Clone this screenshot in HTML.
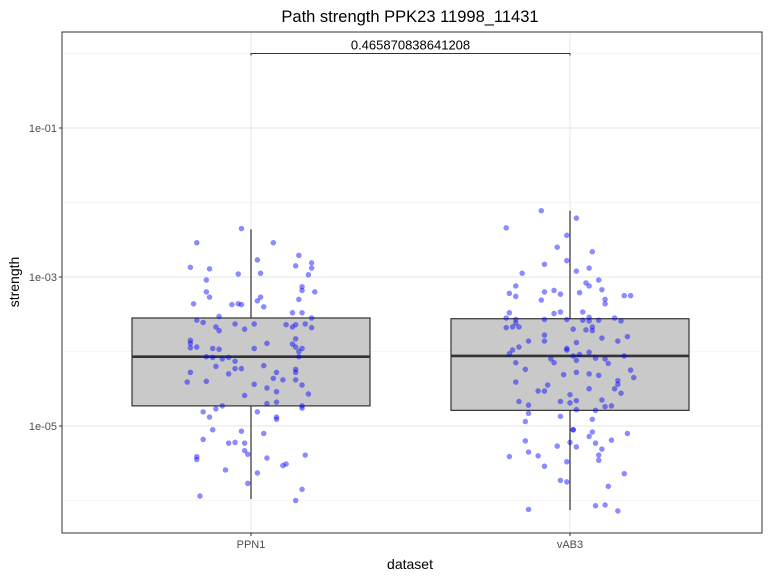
<!DOCTYPE html>
<html><head><meta charset="utf-8">
<style>
html,body{margin:0;padding:0;background:#fff;}
svg{display:block;font-family:"Liberation Sans",Arial,sans-serif;}
</style></head>
<body>
<svg id="chart" width="768" height="576" viewBox="0 0 768 576">
  <text x="410" y="22" text-anchor="middle" font-size="16.5" fill="#000">Path strength PPK23 11998_11431</text>
  <g id="grid"></g>
  <g id="boxes"></g>
  <g id="points"></g>
  <g id="annot"></g>
  <rect x="62" y="32" width="700" height="501" fill="none" stroke="#333" stroke-width="1"/>
  <g id="axes"></g>
  <text x="410" y="569" text-anchor="middle" font-size="14" fill="#000">dataset</text>
  <text transform="translate(19,282) rotate(-90)" text-anchor="middle" font-size="14" fill="#000">strength</text>
</svg>
<script>
const categories = ["PPN1", "vAB3"];
const yTickExps = [-1, -3, -5];
const yTickLabels = ["1e-01", "1e-03", "1e-05"];
const yMinorExps = [0, -2, -4, -6];
const annotationLabel = "0.465870838641208";
const annotationExp = 0.0;
// box stats (log10 values): lower whisker, q1, median, q3, upper whisker
const boxLow = [-5.98, -6.13];
const boxQ1 = [-4.73, -4.79];
const boxMed = [-4.07, -4.06];
const boxQ3 = [-3.55, -3.56];
const boxHigh = [-2.36, -2.11];
// points: jitter offset (category units) and log10 strength
const ppn1Jitter = [-0.03,-0.17,0.07,0.15,0.02,0.19,-0.19,0.14,0.19,-0.13,-0.04,0.03,0.18,-0.14,0.16,0.16,0.20,-0.14,-0.13,0.03,0.02,0.15,-0.18,-0.06,-0.04,-0.03,0.04,0.13,0.16,-0.10,0.19,-0.17,-0.15,-0.05,0.01,-0.11,0.11,0.13,0.14,0.17,0.19,-0.10,-0.02,-0.19,-0.19,0.14,0.05,-0.19,-0.17,0.01,-0.12,-0.10,0.13,0.14,0.16,0.15,0.15,-0.14,-0.12,-0.09,-0.07,-0.05,-0.11,0.04,-0.05,-0.03,-0.19,-0.07,0.08,0.14,0.14,0.07,0.10,0.14,-0.20,-0.14,0.01,0.16,0.05,0.08,0.18,-0.02,0.08,0.05,0.16,0.16,-0.09,-0.11,-0.15,0.02,-0.13,0.08,0.08,-0.12,-0.03,0.04,-0.15,-0.07,-0.05,-0.02,-0.02,-0.01,-0.17,-0.17,0.17,0.05,0.10,0.11,-0.08,0.02,-0.01,0.16,-0.16,0.14];
const ppn1Log = [-2.35,-2.54,-2.54,-2.71,-2.77,-2.81,-2.87,-2.85,-2.88,-2.89,-2.96,-2.95,-2.97,-3.04,-3.13,-3.18,-3.20,-3.20,-3.27,-3.27,-3.32,-3.30,-3.36,-3.37,-3.36,-3.37,-3.40,-3.48,-3.48,-3.53,-3.55,-3.58,-3.61,-3.63,-3.63,-3.67,-3.64,-3.67,-3.64,-3.63,-3.68,-3.72,-3.70,-3.85,-3.89,-3.83,-3.89,-3.95,-3.94,-3.96,-3.96,-3.97,-3.90,-3.94,-3.96,-4.00,-4.07,-4.07,-4.08,-4.10,-4.08,-4.13,-4.20,-4.19,-4.23,-4.23,-4.28,-4.30,-4.28,-4.24,-4.28,-4.36,-4.38,-4.38,-4.41,-4.40,-4.44,-4.45,-4.49,-4.54,-4.57,-4.59,-4.68,-4.70,-4.73,-4.76,-4.73,-4.77,-4.81,-4.81,-4.88,-4.88,-4.91,-5.05,-5.07,-5.10,-5.18,-5.23,-5.22,-5.23,-5.33,-5.38,-5.41,-5.45,-5.39,-5.43,-5.53,-5.51,-5.59,-5.63,-5.77,-5.85,-5.94,-6.00];
const vab3Jitter = [-0.09,0.02,-0.20,-0.01,-0.04,0.07,-0.01,-0.08,0.06,0.02,-0.15,0.09,0.05,0.06,-0.17,0.10,-0.05,-0.08,0.03,-0.19,-0.17,-0.03,0.17,0.19,0.11,-0.09,0.11,-0.19,-0.05,-0.03,0.04,-0.20,-0.17,-0.08,-0.01,0.04,0.06,0.06,0.09,0.14,0.16,-0.17,-0.20,-0.18,-0.16,0.01,0.05,0.07,0.07,-0.08,-0.08,-0.13,0.10,0.15,0.18,0.02,-0.16,-0.18,-0.01,-0.01,-0.19,0.01,0.03,0.06,-0.06,0.02,0.08,0.11,0.17,-0.17,-0.05,0.12,-0.14,0.19,-0.02,0.02,0.06,0.09,0.20,0.15,-0.17,-0.07,0.15,0.06,0.14,-0.10,-0.08,0.16,0.00,-0.16,-0.03,0.02,0.00,0.10,-0.13,0.11,0.13,0.02,0.08,-0.13,-0.03,-0.14,0.07,0.01,0.01,0.07,0.06,0.18,-0.14,0.13,0.00,0.08,-0.04,0.02,0.10,-0.13,-0.10,-0.19,0.09,0.09,-0.08,-0.01,0.17,-0.03,-0.01,0.12,0.08,0.11,-0.13,0.15];
const vab3Log = [-2.11,-2.21,-2.34,-2.44,-2.60,-2.66,-2.78,-2.83,-2.88,-2.92,-2.95,-3.04,-3.08,-3.12,-3.12,-3.17,-3.18,-3.20,-3.21,-3.22,-3.26,-3.23,-3.25,-3.25,-3.30,-3.31,-3.36,-3.48,-3.49,-3.47,-3.47,-3.55,-3.57,-3.57,-3.57,-3.58,-3.54,-3.59,-3.58,-3.55,-3.59,-3.62,-3.68,-3.67,-3.67,-3.70,-3.71,-3.67,-3.72,-3.78,-3.86,-3.86,-3.82,-3.86,-3.80,-3.88,-3.94,-3.98,-3.96,-3.98,-4.03,-4.06,-4.04,-4.01,-4.10,-4.12,-4.09,-4.10,-4.06,-4.15,-4.15,-4.16,-4.24,-4.25,-4.31,-4.28,-4.30,-4.32,-4.35,-4.39,-4.41,-4.45,-4.44,-4.50,-4.50,-4.53,-4.53,-4.56,-4.58,-4.67,-4.67,-4.66,-4.69,-4.65,-4.72,-4.74,-4.73,-4.78,-4.79,-4.83,-4.87,-4.94,-4.91,-5.05,-5.05,-5.08,-5.14,-5.10,-5.20,-5.19,-5.22,-5.23,-5.27,-5.28,-5.31,-5.35,-5.40,-5.41,-5.39,-5.46,-5.54,-5.48,-5.64,-5.73,-5.75,-5.81,-6.07,-6.06,-6.12,-6.14];

const NS = "http://www.w3.org/2000/svg";
const PL = 62, PR = 762, PT = 32, PB = 533;
function yScale(e) { return 128 + (-1 - e) * 74.5; }
function xScale(i) { return 251 + i * 319; }
function mk(tag, attrs, parent) {
  const el = document.createElementNS(NS, tag);
  for (const k in attrs) el.setAttribute(k, attrs[k]);
  parent.appendChild(el);
  return el;
}
const grid = document.getElementById("grid");
const axes = document.getElementById("axes");
const boxes = document.getElementById("boxes");
const pts = document.getElementById("points");
const annot = document.getElementById("annot");

yMinorExps.forEach(e => {
  const l = mk("line", {x1: PL, x2: PR, y1: yScale(e), y2: yScale(e), stroke: "#f2f2f2", "stroke-width": 0.8}, grid);
  
  
});
yTickExps.forEach((e, i) => {
  const y = yScale(e);
  const l = mk("line", {x1: PL, x2: PR, y1: y, y2: y, stroke: "#ebebeb", "stroke-width": 1.2}, grid);
  
  
  const t = mk("line", {x1: PL - 3, x2: PL, y1: y, y2: y, stroke: "#333", "stroke-width": 1}, axes);
  
  
  const tx = mk("text", {x: PL - 5, y: y + 4, "text-anchor": "end", "font-size": 11, fill: "#4d4d4d"}, axes);
  tx.textContent = yTickLabels[i];
  
  
});
categories.forEach((c, i) => {
  const x = xScale(i);
  const g = mk("line", {x1: x, x2: x, y1: PT, y2: PB, stroke: "#ebebeb", "stroke-width": 1.2}, grid);
  
  
  const t = mk("line", {x1: x, x2: x, y1: PB, y2: PB + 3, stroke: "#333", "stroke-width": 1}, axes);
  
  
  const tx = mk("text", {x: x, y: PB + 15, "text-anchor": "middle", "font-size": 11, fill: "#4d4d4d"}, axes);
  tx.textContent = c;
  
  

  const half = 119;
  const w = mk("line", {x1: x, x2: x, y1: yScale(boxHigh[i]), y2: yScale(boxLow[i]), stroke: "#333", "stroke-width": 1.2}, boxes);
  
  
  const r = mk("rect", {x: x - half, y: yScale(boxQ3[i]), width: half * 2, height: yScale(boxQ1[i]) - yScale(boxQ3[i]), fill: "#c9c9c9", stroke: "#333", "stroke-width": 1.2}, boxes);
  
  
  const m = mk("line", {x1: x - half, x2: x + half, y1: yScale(boxMed[i]), y2: yScale(boxMed[i]), stroke: "#333", "stroke-width": 2.6}, boxes);
  
  
});
function drawPts(jit, lg, idx, name) {
  for (let k = 0; k < lg.length; k++) {
    const p = mk("circle", {cx: xScale(idx + jit[k]), cy: yScale(lg[k]), r: 2.6, fill: "#0000ff", "fill-opacity": 0.45, stroke: "#0000ff", "stroke-opacity": 0.2, "stroke-width": 0.5}, pts);
    
    
  }
}
drawPts(ppn1Jitter, ppn1Log, 0, 'point-ppn1');
drawPts(vab3Jitter, vab3Log, 1, 'point-vab3');

const ay = yScale(annotationExp);
const br = mk("path", {d: `M${xScale(0)},${ay + 2} V${ay} H${xScale(1)} V${ay + 2}`, fill: "none", stroke: "#333", "stroke-width": 1}, annot);


const at = mk("text", {x: (xScale(0) + xScale(1)) / 2, y: ay - 4, "text-anchor": "middle", "font-size": 13, fill: "#000"}, annot);
at.textContent = annotationLabel;


</script>
</body></html>
